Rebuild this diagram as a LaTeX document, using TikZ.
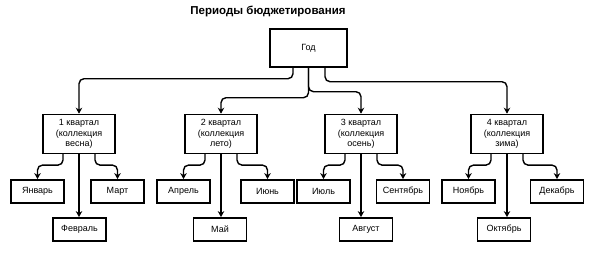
\documentclass[tikz,border=0pt]{standalone}
\usepackage{fontspec}
\setmainfont{Liberation Sans}
\usepackage{tikz}
\usetikzlibrary{positioning, arrows.meta}

\tikzset{
    box/.style={draw, rectangle, line width=1.4pt, inner sep=1pt, font=\fontsize{9}{10.5}\selectfont},
    yearbox/.style={box, minimum width=77pt, minimum height=38pt},
    qbox/.style={box, minimum width=72pt, minimum height=39pt, align=center},
    mbox/.style={box, minimum width=53pt, minimum height=23pt},
    link/.style={->, line width=1.4pt, rounded corners=5pt}
}

\begin{document}
\begin{tikzpicture}[>={Stealth[length=6pt, width=6.5pt]}]
    % Nodes
    \node[yearbox] (god) {Год};
    \node[above=11pt of god, xshift=-40.5pt, inner sep=0pt, font=\fontsize{11.5}{13}\selectfont\bfseries] (title) {Периоды бюджетирования};
    \useasboundingbox (-308.5pt,-209pt) rectangle (283.5pt,48pt);

    \node[qbox, below=46pt of god, xshift=-229.5pt] (q1) {1 квартал\\(коллекция\\весна)};
    \node[qbox, below=46pt of god, xshift=-87.5pt] (q2) {2 квартал\\(коллекция\\лето)};
    \node[qbox, below=46pt of god, xshift=52.5pt] (q3) {3 квартал\\(коллекция\\осень)};
    \node[qbox, below=46pt of god, xshift=198.5pt] (q4) {4 квартал\\(коллекция\\зима)};

    \node[mbox, below=25pt of q1, xshift=-41.5pt] (jan) {Январь};
    \node[mbox, below=63pt of q1, xshift=0.5pt] (feb) {Февраль};
    \node[mbox, below=25pt of q1, xshift=38.5pt] (mar) {Март};

    \node[mbox, below=25pt of q2, xshift=-37.5pt] (apr) {Апрель};
    \node[mbox, below=63pt of q2, xshift=-1pt] (may) {Май};
    \node[mbox, below=25pt of q2, xshift=46.5pt] (jun) {Июнь};

    \node[mbox, below=25pt of q3, xshift=-37.5pt] (jul) {Июль};
    \node[mbox, below=63pt of q3, xshift=5pt] (aug) {Август};
    \node[mbox, below=25pt of q3, xshift=42pt] (sep) {Сентябрь};

    \node[mbox, below=25pt of q4, xshift=-38.5pt] (nov) {Ноябрь};
    \node[mbox, below=63pt of q4, xshift=-3pt] (oct) {Октябрь};
    \node[mbox, below=25pt of q4, xshift=50pt] (dec) {Декабрь};

    % Connections
    \draw[link] ([xshift=-15.5pt]god.south) -- ++(0,-11pt) -| (q1.north);
    \draw[link] (god.south) -- ++(0,-30pt) -| (q2.north);
    \draw[link] (god.south) -- ++(0,-24pt) -| (q3.north);
    \draw[link] ([xshift=16.5pt]god.south) -- ++(0,-14pt) -| (q4.north);

    \draw[link] ([xshift=-16pt]q1.south) -- ++(0,-11pt) -| (jan.north);
    \draw[link] (q1.south) -- (q1.south |- feb.north);
    \draw[link] ([xshift=16pt]q1.south) -- ++(0,-11pt) -| (mar.north);

    \draw[link] ([xshift=-16pt]q2.south) -- ++(0,-11pt) -| (apr.north);
    \draw[link] (q2.south) -- (q2.south |- may.north);
    \draw[link] ([xshift=16pt]q2.south) -- ++(0,-11pt) -| (jun.north);

    \draw[link] ([xshift=-16pt]q3.south) -- ++(0,-11pt) -| (jul.north);
    \draw[link] (q3.south) -- (q3.south |- aug.north);
    \draw[link] ([xshift=16pt]q3.south) -- ++(0,-11pt) -| (sep.north);

    \draw[link] ([xshift=-16pt]q4.south) -- ++(0,-11pt) -| (nov.north);
    \draw[link] (q4.south) -- (q4.south |- oct.north);
    \draw[link] ([xshift=16pt]q4.south) -- ++(0,-11pt) -| (dec.north);
\end{tikzpicture}
\end{document}
